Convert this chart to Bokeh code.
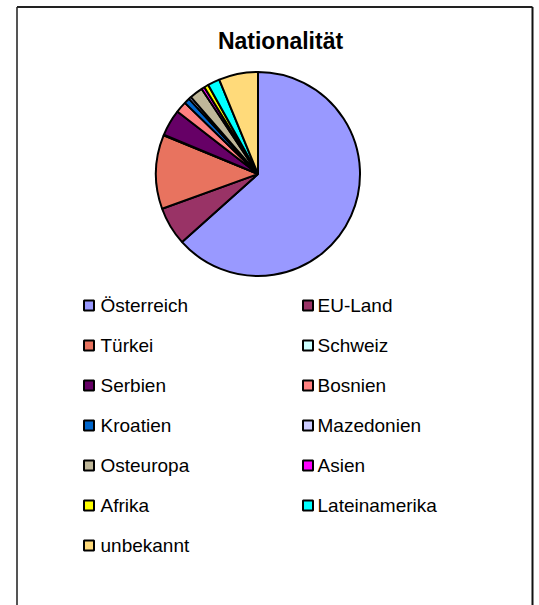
import numpy as np
from bokeh.plotting import figure
from bokeh.models import Range1d, ColumnDataSource
from bokeh.core.properties import value
from bokeh.embed import file_html
from bokeh.resources import INLINE

# ---- data ----
categories = ["Österreich", "EU-Land", "Türkei", "Schweiz", "Serbien", "Bosnien",
              "Kroatien", "Mazedonien", "Osteuropa", "Asien", "Afrika",
              "Lateinamerika", "unbekannt"]
shares = [63.3, 6.1, 11.7, 0.1, 4.2, 1.8, 0.9, 0.4, 2.1, 0.5, 0.7, 1.9, 6.2]
colors = ["#9999FF", "#993366", "#E8735F", "#CCFFFF", "#660066", "#FF8080",
          "#0066CC", "#CCCCFF", "#BFB799", "#FF00FF", "#FFFF00", "#00FFFF",
          "#FFDA7A"]
title_text = "Nationalität"

# ---- figure: data units = page pixels (y negated) ----
W, H = 539, 605
p = figure(width=W, height=H, output_backend="svg", toolbar_location=None,
           x_range=Range1d(0, W), y_range=Range1d(-H, 0),
           x_axis_type=None, y_axis_type=None, min_border=0,
           background_fill_color="white", border_fill_color="white")
p.grid.visible = False
p.outline_line_color = None

# chart frame (left, top, right)
p.segment(x0=[16.5, 16.5, 532.0], y0=[-605, -6.5, -6.5],
          x1=[16.5, 532.0, 532.0], y1=[-6.5, -6.5, -605],
          line_color=["#555555", "#222222", "#111111"], line_width=2)

# title
p.text(x=[280], y=[-40], text=[title_text], text_align="center",
       text_baseline="alphabetic", text_font=value("Liberation Sans"),
       text_font_style="bold", text_font_size="23px", text_color="black")

# pie
vals = np.array(shares, dtype=float)
frac = vals / vals.sum()
cum = np.concatenate([[0.0], np.cumsum(frac)])
start = np.pi / 2 - cum[:-1] * 2 * np.pi
end = np.pi / 2 - cum[1:] * 2 * np.pi
src = ColumnDataSource(dict(start=start, end=end, color=colors, cat=categories))
p.wedge(x=257.5, y=-173.5, radius=102, start_angle="start", end_angle="end",
        direction="clock", fill_color="color", line_color="black",
        line_width=2, source=src)

# legend (two columns, row-major)
idx = np.arange(len(categories))
col = idx % 2
row = idx // 2
mx = np.where(col == 0, 88.5, 307.5)
tx = np.where(col == 0, 100.0, 317.0)
ly = -(305 + 40 * row)
p.scatter(x=mx, y=ly, marker="square", size=10, fill_color=colors,
          line_color="black", line_width=2)
p.text(x=tx, y=ly, text=categories, text_align="left", text_baseline="middle",
       text_font=value("Liberation Sans"), text_font_size="19px",
       text_color="black")

open("out.html", "w").write(file_html(p, INLINE))
